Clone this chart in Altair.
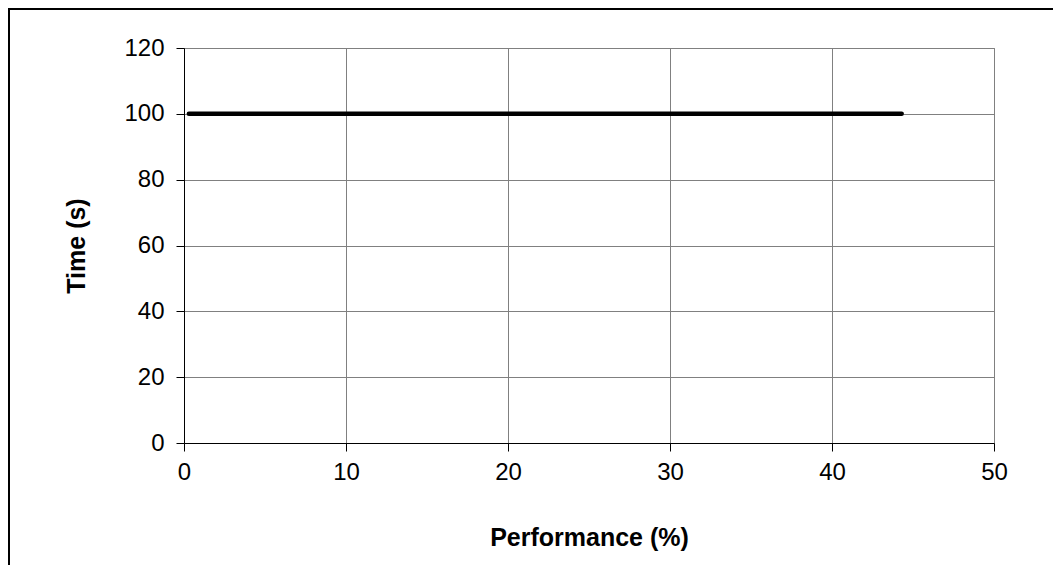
import altair as alt
import pandas as pd

performance = [0.3, 44.3]
time_s = [100, 100]
x_ticks = [0, 10, 20, 30, 40, 50]
y_ticks = [0, 20, 40, 60, 80, 100, 120]

df = pd.DataFrame({"Performance": performance, "Time": time_s})

W, H = 810, 395
PL, PT = 176, 40

line = alt.Chart(df).mark_line(color="black", strokeWidth=4.5, strokeCap="round").encode(
    x=alt.X("Performance:Q",
            scale=alt.Scale(domain=[0, 50], nice=False, zero=False),
            axis=alt.Axis(values=x_ticks, title="Performance (%)")),
    y=alt.Y("Time:Q",
            scale=alt.Scale(domain=[0, 120], nice=False),
            axis=alt.Axis(values=y_ticks, title="Time (s)")),
)

border = alt.Chart(df).mark_rect(fill=None, stroke="black", strokeWidth=2, clip=False).encode(
    x=alt.value(-PL + 1), x2=alt.value(W + 200),
    y=alt.value(-PT + 1), y2=alt.value(H + 200),
)

chart = alt.layer(border, line).properties(
    width=W, height=H,
    autosize=alt.AutoSizeParams(type="none"),
    padding={"left": PL, "top": PT, "right": 59, "bottom": 122},
).configure_view(
    stroke="#808080", strokeWidth=1
).configure_axis(
    domainColor="black", domainWidth=1,
    gridColor="#808080", gridWidth=1,
    tickColor="black", tickSize=8, tickWidth=1,
    labelFlush=False,
    labelFont="Liberation Sans", labelFontSize=24, labelColor="black",
    titleFont="Liberation Sans", titleFontSize=25, titleFontWeight="bold", titleColor="black",
).configure_axisX(
    labelPadding=9, titlePadding=41
).configure_axisY(
    labelPadding=12, titlePadding=34
)

chart.save("out.html", embed_options={"renderer": "svg", "actions": False})
